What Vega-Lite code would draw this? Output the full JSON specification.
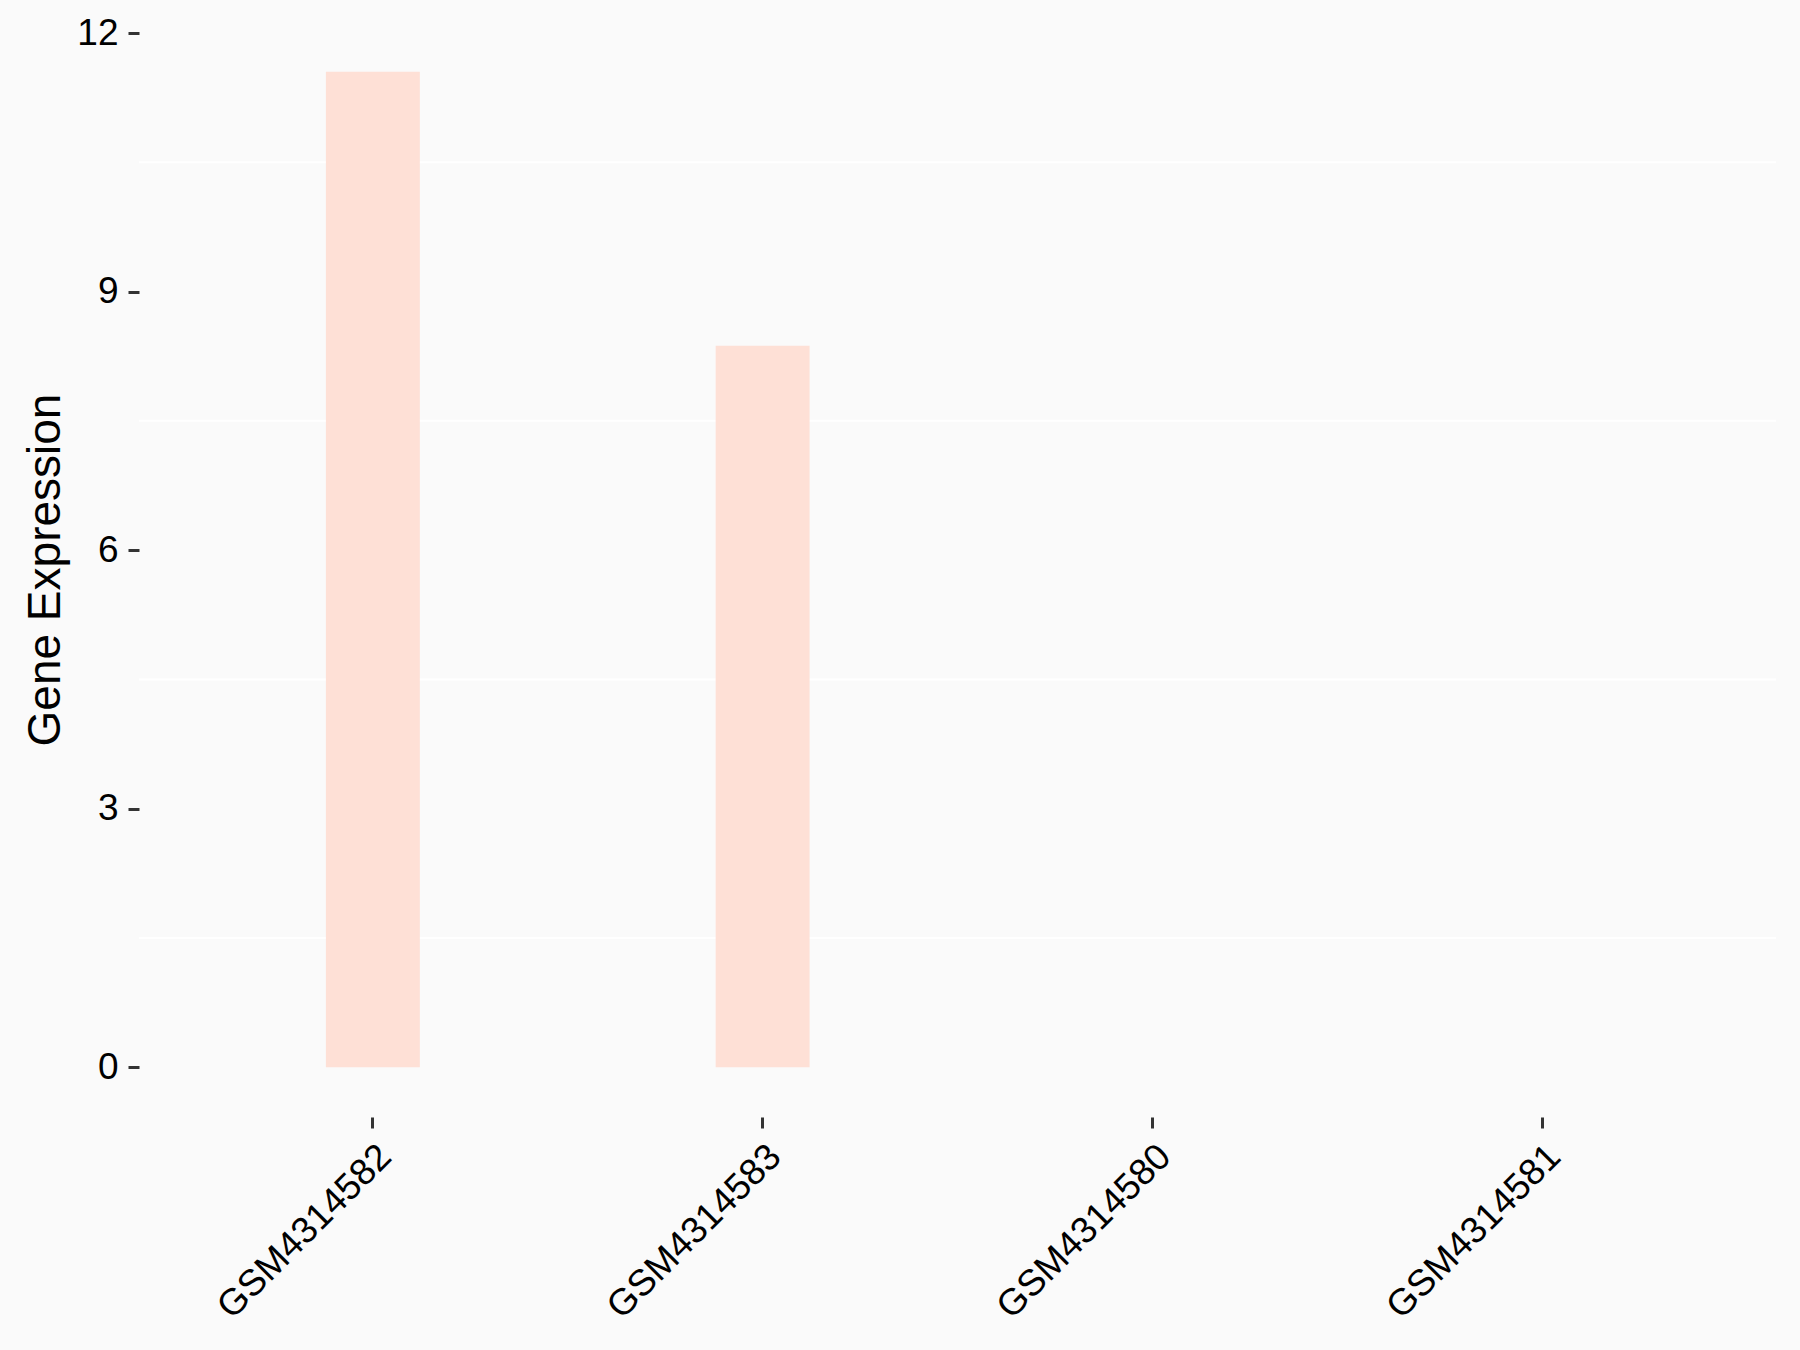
{
  "$schema": "https://vega.github.io/schema/vega-lite/v6.json",
  "autosize": {"type": "none"},
  "width": 1637,
  "height": 1095,
  "padding": {"left": 139, "top": 22, "right": 24, "bottom": 233},
  "background": "#FAFAFA",
  "config": {
    "view": {"stroke": null, "fill": "#FAFAFA"},
    "font": "Liberation Sans"
  },
  "datasets": {
    "samples": [
      {"sample": "GSM4314582", "expression": 11.55},
      {"sample": "GSM4314583", "expression": 8.37},
      {"sample": "GSM4314580", "expression": 0},
      {"sample": "GSM4314581", "expression": 0}
    ],
    "grid": [
      {"level": 1.5},
      {"level": 4.5},
      {"level": 7.5},
      {"level": 10.5}
    ]
  },
  "layer": [
    {
      "data": {"name": "grid"},
      "mark": {"type": "rule", "color": "#FFFFFF", "strokeWidth": 2},
      "encoding": {
        "y": {"field": "level", "type": "quantitative", "scale": {"domain": [-0.578, 12.128], "nice": false, "zero": false}}
      }
    },
    {
      "data": {"name": "samples"},
      "mark": {"type": "bar", "color": "#FEE0D6"},
      "encoding": {
        "x": {
          "field": "sample", "type": "nominal", "sort": null,
          "scale": {"paddingInner": 0.759, "paddingOuter": 0.4795},
          "axis": {
            "title": null, "domain": false, "grid": false,
            "ticks": true, "tickSize": 11, "tickWidth": 3, "tickColor": "#333333",
            "labelAngle": -45, "labelAlign": "right", "labelBaseline": "top",
            "labelFontSize": 37, "labelColor": "#000000", "labelPadding": 10, "labelLimit": 0
          }
        },
        "y": {
          "field": "expression", "type": "quantitative",
          "scale": {"domain": [-0.578, 12.128], "nice": false, "zero": false},
          "axis": {
            "title": "Gene Expression", "titleFontSize": 46, "titleFontWeight": "normal",
            "titleColor": "#000000", "titlePadding": 7,
            "values": [0, 3, 6, 9, 12], "format": "d", "domain": false, "grid": false,
            "tickSize": 11, "tickWidth": 3, "tickColor": "#333333",
            "labelFontSize": 37, "labelColor": "#000000", "labelPadding": 10
          }
        },
        "y2": {"datum": 0}
      }
    }
  ]
}
